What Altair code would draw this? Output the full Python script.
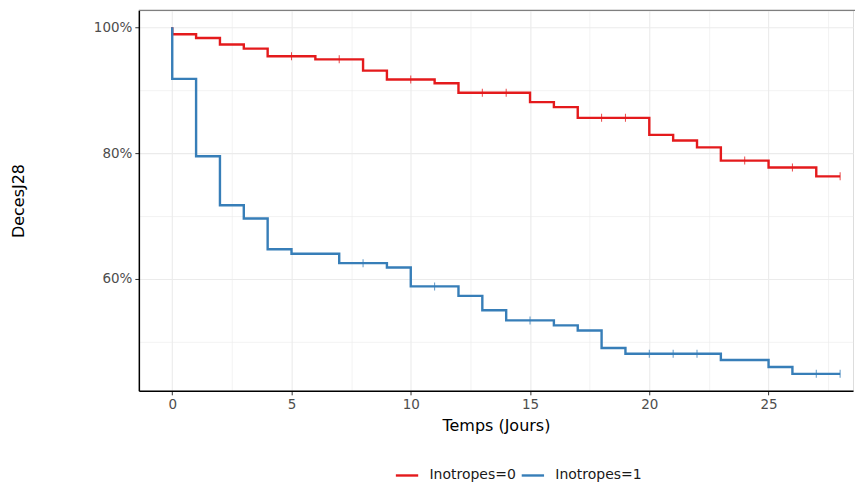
import altair as alt
import pandas as pd

# Kaplan-Meier step data (time in days, survival fraction)
red_times = [0, 0, 1, 2, 3, 4, 6, 8, 9, 11, 12, 15, 16, 17, 20, 21, 22, 23, 25, 27, 28]
red_surv = [1.0, 0.989, 0.983, 0.9725, 0.966, 0.954, 0.949, 0.931, 0.917, 0.911, 0.896,
            0.881, 0.873, 0.856, 0.829, 0.820, 0.809, 0.788, 0.777, 0.763, 0.763]
blue_times = [0, 0, 1, 2, 3, 4, 5, 7, 9, 10, 12, 13, 14, 16, 17, 18, 19, 23, 25, 26, 28]
blue_surv = [1.0, 0.918, 0.795, 0.717, 0.696, 0.647, 0.640, 0.625, 0.618, 0.588, 0.573,
             0.550, 0.534, 0.526, 0.518, 0.490, 0.481, 0.471, 0.460, 0.449, 0.449]
red_censor = [5, 7, 10, 13, 14, 18, 19, 24, 26, 28]
blue_censor = [8, 11, 15, 20, 21, 22, 27, 28]
groups = ["Inotropes=0", "Inotropes=1"]
colors = ["#E41A1C", "#377EB8"]

x_ticks = [0, 2.5, 5, 7.5, 10, 12.5, 15, 17.5, 20, 22.5, 25, 27.5]
y_ticks = [0.5, 0.6, 0.7, 0.8, 0.9, 1.0]


def step_value(times, surv, t):
    v = surv[0]
    for ti, si in zip(times, surv):
        if ti <= t:
            v = si
    return v


rows = []
for g, ts, ss in [(groups[0], red_times, red_surv), (groups[1], blue_times, blue_surv)]:
    for i, (t, s) in enumerate(zip(ts, ss)):
        rows.append({"group": g, "time": t, "surv": s, "order": i})
df = pd.DataFrame(rows)

crow = []
for g, cs, ts, ss in [(groups[0], red_censor, red_times, red_surv),
                      (groups[1], blue_censor, blue_times, blue_surv)]:
    for t in cs:
        crow.append({"group": g, "time": t, "surv": step_value(ts, ss, t)})
cdf = pd.DataFrame(crow)

W, H = 715, 381
FONT = "DejaVu Sans"

xscale = alt.Scale(domain=[-1.4, 28.54], nice=False, zero=False)
yscale = alt.Scale(domain=[0.422, 1.027], nice=False, zero=False)
cscale = alt.Scale(domain=groups, range=colors)

x_axis = alt.Axis(
    values=x_ticks,
    labelExpr="datum.value % 5 == 0 ? datum.value : ''",
    title="Temps (Jours)",
    titleFontSize=16, titleFontWeight="normal", titleColor="#000000", titlePadding=6,
    labelFontSize=13.5, labelColor="#4D4D4D", labelPadding=3,
    gridColor="#EBEBEB",
    gridWidth={"condition": {"test": "datum.value % 5 == 0", "value": 1.1}, "value": 0.6},
    tickOpacity={"condition": {"test": "datum.value % 5 == 0", "value": 1}, "value": 0},
    tickColor="#333333", tickSize=4, tickWidth=1,
    domainColor="#000000", domainWidth=1.5,
)
y_axis = alt.Axis(
    values=y_ticks,
    labelExpr="(round(datum.value*100) % 20 == 0) ? format(datum.value, '.0%') : ''",
    title="DecesJ28",
    titleFontSize=16, titleFontWeight="normal", titleColor="#000000", titlePadding=67,
    labelFontSize=13.5, labelColor="#4D4D4D", labelPadding=3,
    gridColor="#EBEBEB",
    gridWidth={"condition": {"test": "round(datum.value*100) % 20 == 0", "value": 1.1}, "value": 0.6},
    tickOpacity={"condition": {"test": "round(datum.value*100) % 20 == 0", "value": 1}, "value": 0},
    tickColor="#333333", tickSize=4, tickWidth=1,
    domainColor="#000000", domainWidth=1.5,
)

lines = alt.Chart(df).mark_line(interpolate="step-after", strokeWidth=2.4).encode(
    x=alt.X("time:Q", scale=xscale, axis=x_axis),
    y=alt.Y("surv:Q", scale=yscale, axis=y_axis),
    color=alt.Color("group:N", scale=cscale, legend=alt.Legend(
        title=None, orient="none", direction="horizontal",
        legendX=256, legendY=453,
        symbolType="stroke", symbolStrokeWidth=2.4, symbolSize=500,
        labelFontSize=14, labelColor="#1A1A1A", labelFont=FONT,
        labelOffset=10, columnPadding=0,
    )),
    detail="group:N",
    order="order:Q",
)

ticks = alt.Chart(cdf).mark_tick(orient="vertical", size=8, thickness=1, opacity=0.8).encode(
    x=alt.X("time:Q", scale=xscale),
    y=alt.Y("surv:Q", scale=yscale),
    color=alt.Color("group:N", scale=cscale, legend=None),
)

top_line = alt.Chart(pd.DataFrame({"a": [0]})).mark_rule(color="#7F7F7F", strokeWidth=1.2).encode(
    x=alt.value(0), x2=alt.value(W + 10), y=alt.value(0)
)

chart = alt.layer(lines, ticks, top_line).properties(
    width=W, height=H,
    autosize=alt.AutoSizeParams(type="none"),
    padding={"left": 131, "top": 2, "right": 2, "bottom": 96},
).configure_view(stroke=None).configure(font=FONT)

chart.save("out.html", embed_options={"renderer": "svg", "actions": False})
